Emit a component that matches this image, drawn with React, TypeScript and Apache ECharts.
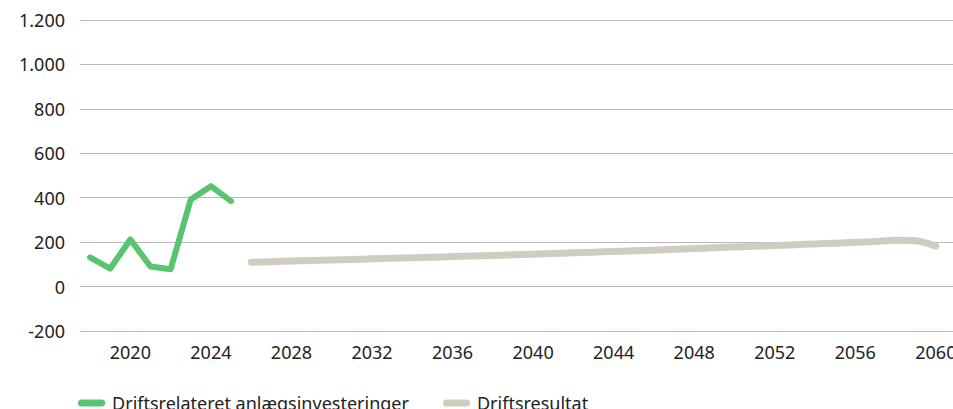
import React, { useEffect, useRef } from "react";
import * as echarts from "echarts";

const investYears = [2018, 2019, 2020, 2021, 2022, 2023, 2024, 2025];
const investValues = [131, 81, 212, 90, 78, 392, 452, 385];

const resultYears = [
  2026, 2027, 2028, 2029, 2030, 2031, 2032, 2033, 2034, 2035, 2036, 2037,
  2038, 2039, 2040, 2041, 2042, 2043, 2044, 2045, 2046, 2047, 2048, 2049,
  2050, 2051, 2052, 2053, 2054, 2055, 2056, 2057, 2058, 2059, 2060,
];
const resultValues = [
  110, 112, 115, 117, 120, 122, 125, 127, 130, 132, 135, 138, 140, 143, 146,
  149, 152, 155, 158, 161, 164, 168, 171, 175, 178, 181, 185, 188, 192, 195,
  199, 203, 208, 206, 182,
];

const xTickLabels = [2020, 2024, 2028, 2032, 2036, 2040, 2044, 2048, 2052, 2056, 2060];
const yTicks = [-200, 0, 200, 400, 600, 800, 1000, 1200];

const seriesNames = ["Driftsrelateret anlægsinvesteringer", "Driftsresultat"];
const colors = ["#57c46f", "#d0cdc0"];

const FONT = "'Noto Sans', sans-serif";
const pill = "path://M4,0 H27 A4,4 0 0 1 27,8 H4 A4,4 0 0 1 4,0 Z";

function fmt(v: number) {
  const s = Math.abs(v).toString().replace(/\B(?=(\d{3})+(?!\d))/g, ".");
  return (v < 0 ? "-" : "") + s;
}

export default function App() {
  const ref = useRef<HTMLDivElement>(null);
  useEffect(() => {
    if (!ref.current) return;
    const chart = echarts.init(ref.current, null, { renderer: "svg" });
    chart.setOption({
      animation: false,
      textStyle: { fontFamily: FONT },
      grid: { left: 80, width: 880, top: 20, bottom: 78, containLabel: false },
      legend: {
        left: 73,
        top: 389,
        itemWidth: 31,
        itemHeight: 7,
        itemGap: 34,
        icon: pill,
        textStyle: { fontFamily: FONT, fontSize: 18, color: "#222" },
        data: seriesNames,
      },
      xAxis: {
        type: "value",
        min: 2017.5,
        max: 2061.2,
        axisLine: { show: false },
        axisTick: { show: false },
        splitLine: { show: false },
        axisLabel: {
          customValues: xTickLabels,
          formatter: (v: number) => String(v),
          fontFamily: FONT,
          fontSize: 18,
          color: "#222",
          margin: 12,
        },
      },
      yAxis: {
        type: "value",
        min: yTicks[0],
        max: yTicks[yTicks.length - 1],
        interval: 200,
        axisLine: { show: false },
        axisTick: { show: false },
        splitLine: { lineStyle: { color: "#b8b8b8", width: 1 } },
        axisLabel: {
          formatter: (v: number) => fmt(v),
          fontFamily: FONT,
          fontSize: 18,
          color: "#222",
          margin: 15,
        },
      },
      series: [
        {
          name: seriesNames[0],
          type: "line",
          showSymbol: false,
          data: investYears.map((y, i) => [y, investValues[i]]),
          itemStyle: { color: colors[0] },
          lineStyle: { color: colors[0], width: 6, cap: "round", join: "round" },
        },
        {
          name: seriesNames[1],
          type: "line",
          showSymbol: false,
          smooth: 0.3,
          data: resultYears.map((y, i) => [y, resultValues[i]]),
          itemStyle: { color: colors[1] },
          lineStyle: { color: colors[1], width: 7, cap: "round", join: "round" },
        },
      ],
    });
    return () => chart.dispose();
  }, []);
  return (
    <div style={{ position: "fixed", left: 0, top: 0, width: 953, height: 409, overflow: "hidden", background: "#fff" }}>
      <div ref={ref} style={{ width: 975, height: 409 }} />
    </div>
  );
}
